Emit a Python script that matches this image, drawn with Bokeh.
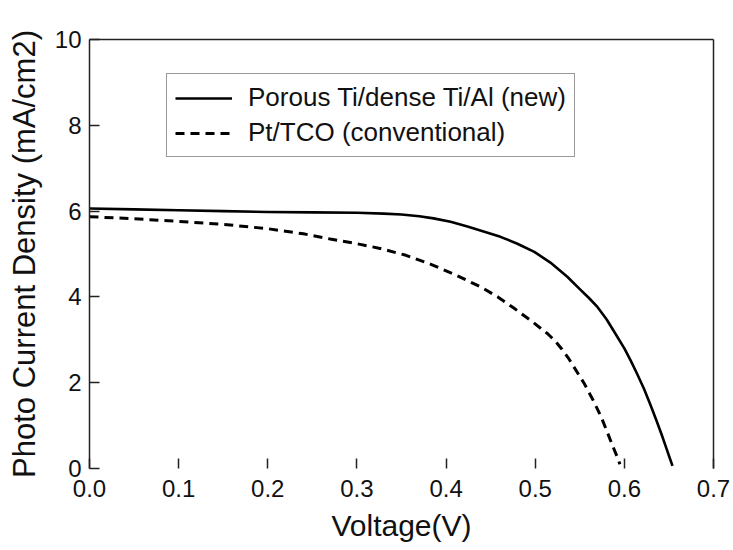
from bokeh.plotting import figure
from bokeh.models import Range1d, FixedTicker, PrintfTickFormatter, LinearAxis, Legend, LegendItem
from bokeh.embed import file_html
from bokeh.resources import INLINE

# Data
v_new = [0.0, 0.05, 0.1, 0.15, 0.2, 0.25, 0.3, 0.33, 0.35, 0.37, 0.386, 0.405, 0.424,
         0.443, 0.461, 0.48, 0.499, 0.517, 0.536, 0.55, 0.56, 0.57, 0.58, 0.59, 0.6,
         0.607, 0.614, 0.622, 0.629, 0.636, 0.642, 0.647, 0.651, 0.654]
j_new = [6.06, 6.04, 6.02, 6.0, 5.98, 5.97, 5.96, 5.94, 5.92, 5.88, 5.83, 5.75, 5.64,
         5.52, 5.40, 5.24, 5.05, 4.80, 4.47, 4.18, 3.98, 3.76, 3.48, 3.14, 2.80,
         2.52, 2.22, 1.86, 1.50, 1.12, 0.78, 0.48, 0.24, 0.06]
v_conv = [0.0, 0.05, 0.1, 0.15, 0.2, 0.24, 0.27, 0.3, 0.326, 0.355, 0.383, 0.41, 0.439,
          0.458, 0.476, 0.495, 0.514, 0.522, 0.53, 0.537, 0.543, 0.555, 0.566, 0.574,
          0.581, 0.587, 0.592, 0.595]
j_conv = [5.87, 5.82, 5.76, 5.69, 5.59, 5.47, 5.35, 5.24, 5.13, 4.97, 4.76, 4.52, 4.23,
          4.00, 3.74, 3.45, 3.14, 2.98, 2.78, 2.58, 2.38, 1.98, 1.55, 1.20,
          0.84, 0.52, 0.27, 0.10]
x_ticks = [0.0, 0.1, 0.2, 0.3, 0.4, 0.5, 0.6, 0.7]
y_ticks = [0, 2, 4, 6, 8, 10]
labels = ["Porous Ti/dense Ti/Al (new)", "Pt/TCO (conventional)"]
x_title = "Voltage(V)"
y_title = "Photo Current Density (mA/cm2)"

FONT = "Liberation Sans"

p = figure(width=733, height=550, output_backend="svg", toolbar_location=None,
           x_range=Range1d(0, 0.7), y_range=Range1d(0, 10),
           min_border_left=89, min_border_right=20, min_border_top=39, min_border_bottom=82)
p.grid.visible = False
p.outline_line_color = None
p.background_fill_color = "white"
p.border_fill_color = "white"

r1 = p.line(v_new, j_new, line_color="black", line_width=2.6, line_join="round")
r2 = p.line(v_conv, j_conv, line_color="black", line_width=3, line_dash="9 6")

# axes
xa = p.xaxis[0]
xa.ticker = FixedTicker(ticks=x_ticks)
xa.formatter = PrintfTickFormatter(format="%.1f")
xa.axis_line_color = None
xa.major_tick_in = 10
xa.major_tick_out = 0
xa.major_tick_line_color = "#222222"
xa.major_tick_line_width = 1.5
xa.minor_tick_line_color = None
xa.major_label_text_font = FONT
xa.major_label_text_font_size = "24px"
xa.major_label_text_color = "#111111"
xa.major_label_standoff = 11
xa.axis_label = x_title
xa.axis_label_text_font = FONT
xa.axis_label_text_font_size = "30px"
xa.axis_label_text_font_style = "normal"
xa.axis_label_text_color = "#111111"
xa.axis_label_standoff = 9

ya = p.yaxis[0]
ya.ticker = FixedTicker(ticks=y_ticks)
ya.formatter = PrintfTickFormatter(format="%d")
ya.axis_line_color = "#222222"
ya.axis_line_width = 1.5
ya.major_tick_in = 10
ya.major_tick_out = 0
ya.major_tick_line_color = "#222222"
ya.major_tick_line_width = 1.5
ya.minor_tick_line_color = None
ya.major_label_text_font = FONT
ya.major_label_text_font_size = "24px"
ya.major_label_text_color = "#111111"
ya.major_label_standoff = 8
ya.axis_label = y_title
ya.axis_label_text_font = FONT
ya.axis_label_text_font_size = "31px"
ya.axis_label_text_font_style = "normal"
ya.axis_label_text_color = "#111111"
ya.axis_label_standoff = 10

# frame lines top and right
for place in ("right", "above"):
    ax = LinearAxis(ticker=FixedTicker(ticks=[]), major_label_text_font_size="0px",
                    axis_line_color="#222222", axis_line_width=1.5,
                    major_tick_line_color=None, minor_tick_line_color=None)
    p.add_layout(ax, place)

legend = Legend(items=[LegendItem(label=labels[0], renderers=[r1]),
                       LegendItem(label=labels[1], renderers=[r2])],
                location=(77, 311))
legend.label_text_font = FONT
legend.label_text_font_size = "26px"
legend.label_text_color = "#111111"
legend.glyph_width = 57
legend.glyph_height = 30
legend.label_height = 30
legend.label_standoff = 16
legend.spacing = 4
legend.padding = 8
legend.margin = 0
legend.border_line_color = "#333333"
legend.border_line_width = 1.5
legend.background_fill_alpha = 1
p.add_layout(legend, "center")

open("out.html", "w").write(file_html(p, INLINE))
